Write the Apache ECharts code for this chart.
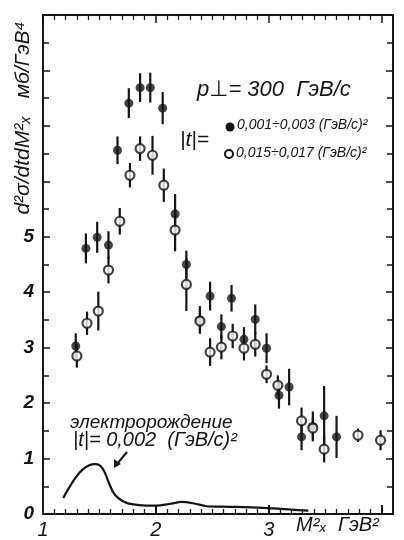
<!DOCTYPE html>
<html>
<head>
<meta charset="utf-8">
<script src="https://cdn.jsdelivr.net/npm/echarts@6/dist/echarts.min.js"></script>
<style>
html,body{margin:0;padding:0;background:#fff;}
#chart{width:404px;height:540px;}
</style>
</head>
<body>
<div id="chart"></div>
<script>
// ---- data ----
const filledX = [1.29, 1.38, 1.48, 1.58, 1.66, 1.76, 1.86, 1.95, 2.06, 2.17, 2.27, 2.39, 2.48, 2.58, 2.67, 2.78, 2.88, 2.98, 3.09, 3.18, 3.29, 3.39, 3.49, 3.60];
const filledY = [3.03, 4.79, 4.99, 4.85, 6.56, 7.41, 7.69, 7.69, 7.32, 5.41, 4.50, 3.50, 3.93, 3.38, 3.89, 3.15, 3.51, 2.99, 2.14, 2.29, 1.39, 1.58, 1.77, 1.39];
const filledErr = [0.23, 0.27, 0.28, 0.25, 0.25, 0.27, 0.26, 0.27, 0.29, 0.36, 0.25, 0.25, 0.26, 0.22, 0.24, 0.22, 0.27, 0.27, 0.24, 0.33, 0.24, 0.27, 0.54, 0.38];

const openX = [1.30, 1.39, 1.49, 1.58, 1.68, 1.77, 1.86, 1.97, 2.07, 2.17, 2.27, 2.39, 2.48, 2.58, 2.68, 2.78, 2.88, 2.98, 3.08, 3.29, 3.39, 3.49, 3.79, 3.99];
const openY = [2.85, 3.44, 3.66, 4.40, 5.28, 6.11, 6.59, 6.47, 5.93, 5.12, 4.14, 3.48, 2.92, 3.01, 3.21, 2.99, 3.06, 2.52, 2.32, 1.68, 1.55, 1.17, 1.42, 1.33];
const openErr = [0.21, 0.21, 0.35, 0.24, 0.24, 0.22, 0.22, 0.35, 0.30, 0.38, 0.48, 0.22, 0.25, 0.22, 0.22, 0.22, 0.22, 0.16, 0.18, 0.24, 0.20, 0.24, 0.12, 0.18];

// electroproduction curve |t| = 0.002
const curveX = [1.18, 1.23, 1.29, 1.35, 1.41, 1.46, 1.50, 1.54, 1.58, 1.62, 1.67, 1.74, 1.85, 2.00, 2.12, 2.23, 2.34, 2.45, 2.65, 2.95, 3.20, 3.35];
const curveY = [0.29, 0.47, 0.66, 0.80, 0.88, 0.90, 0.88, 0.78, 0.58, 0.40, 0.28, 0.20, 0.16, 0.15, 0.18, 0.22, 0.19, 0.14, 0.13, 0.11, 0.08, 0.06];

// tick labels
const xTickLabels = {1: '1', 2: '2', 3: '3'};
const yTickLabels = {0: '0', 1: '1', 2: '2', 3: '3', 4: '4', 5: '5'};

// ---- chart ----
const ink = '#151515';
const chart = echarts.init(document.getElementById('chart'));
const zip = (xs, ys, es) => xs.map((x, i) => es ? [x, ys[i], es[i]] : [x, ys[i]]);

function errRender(params, api) {
  const x = api.value(0), y = api.value(1), e = api.value(2);
  const a = api.coord([x, y + e]);
  const b = api.coord([x, y - e]);
  return {type: 'line', shape: {x1: a[0], y1: a[1], x2: b[0], y2: b[1]},
          style: {stroke: ink, lineWidth: 2.2}};
}

const fontFam = '"Liberation Sans", "DejaVu Sans", sans-serif';
const yAxisBase = {
  type: 'value', min: 0, max: 9, interval: 1,
  axisLine: {show: true, onZero: false, lineStyle: {color: ink, width: 2}},
  splitLine: {show: false},
  axisTick: {show: true, inside: true, length: 7, lineStyle: {color: ink, width: 1.5}},
  minorTick: {show: true, splitNumber: 2, length: 6, lineStyle: {color: ink, width: 1.5}}
};

const option = {
  backgroundColor: '#ffffff',
  animation: false,
  grid: {left: 43, right: 11, top: 15, bottom: 24, containLabel: false},
  xAxis: [{
    type: 'value', min: 1, max: 4.1, interval: 1, position: 'bottom',
    axisLine: {show: true, onZero: false, lineStyle: {color: ink, width: 2}},
    splitLine: {show: false},
    axisTick: {show: true, inside: true, length: 9, lineStyle: {color: ink, width: 2}},
    minorTick: {show: true, splitNumber: 10, length: 5, lineStyle: {color: ink, width: 1.3}},
    axisLabel: {
      show: true, margin: 6, color: ink, fontSize: 20, fontStyle: 'italic', fontFamily: fontFam,
      showMaxLabel: false,
      formatter: v => (Math.abs(v - Math.round(v)) < 1e-6 && xTickLabels[Math.round(v)]) ? xTickLabels[Math.round(v)] : ''
    }
  }, {
    type: 'value', min: 1, max: 4.1, interval: 1, position: 'top',
    axisLine: {show: true, onZero: false, lineStyle: {color: ink, width: 2}},
    splitLine: {show: false},
    axisTick: {show: true, inside: true, length: 8, lineStyle: {color: ink, width: 1.5}},
    minorTick: {show: true, splitNumber: 10, length: 5, lineStyle: {color: ink, width: 1.3}},
    axisLabel: {show: false}
  }],
  yAxis: [Object.assign({}, yAxisBase, {
    position: 'left',
    axisLabel: {
      show: true, margin: 9, color: ink, fontSize: 19, fontStyle: 'italic', fontWeight: 'bold', fontFamily: fontFam,
      formatter: v => (yTickLabels[v] !== undefined ? yTickLabels[v] : '')
    }
  }), Object.assign({}, yAxisBase, {
    position: 'right',
    axisLabel: {show: false}
  })],
  series: [
    {
      type: 'line', data: zip(curveX, curveY), smooth: 0.3, showSymbol: false, symbol: 'none',
      lineStyle: {color: ink, width: 2.2}, z: 2, silent: true
    },
    {type: 'custom', renderItem: errRender, data: zip(filledX, filledY, filledErr), z: 3, silent: true},
    {type: 'custom', renderItem: errRender, data: zip(openX, openY, openErr), z: 3, silent: true},
    {
      type: 'scatter', data: zip(filledX, filledY), symbol: 'circle', symbolSize: 9,
      itemStyle: {color: ink, borderColor: ink, borderWidth: 0}, z: 5, silent: true
    },
    {
      type: 'scatter', data: zip(openX, openY), symbol: 'circle', symbolSize: 9,
      itemStyle: {color: '#ffffff', borderColor: ink, borderWidth: 2.2}, z: 6, silent: true
    }
  ],
  graphic: [
    // y-axis title (rotated)
    {type: 'text', x: 23, y: 118, rotation: Math.PI / 2,
     style: {text: 'd²σ/dtdM²ₓ   мб/ГэВ⁴', fill: ink, font: 'italic 21px ' + fontFam,
             textAlign: 'center', textVerticalAlign: 'middle'}},
    // x-axis name
    {type: 'text', x: 296, y: 525,
     style: {text: 'M²ₓ  ГэВ²', fill: ink, font: 'italic 20px ' + fontFam,
             textAlign: 'left', textVerticalAlign: 'middle'}},
    // header text
    {type: 'text', x: 197, y: 90,
     style: {text: 'p⊥= 300  ГэВ/с', fill: ink, font: 'italic 22px ' + fontFam,
             textAlign: 'left', textVerticalAlign: 'middle'}},
    {type: 'text', x: 180, y: 140,
     style: {text: '|t|=', fill: ink, font: 'italic 21px ' + fontFam,
             textAlign: 'left', textVerticalAlign: 'middle'}},
    {type: 'circle', shape: {cx: 230, cy: 127, r: 4.5}, style: {fill: ink}},
    {type: 'circle', shape: {cx: 229, cy: 154, r: 4}, style: {fill: '#fff', stroke: ink, lineWidth: 2}},
    {type: 'text', x: 237, y: 125,
     style: {text: '0,001÷0,003 (ГэВ/с)²', fill: ink, font: 'italic 14px ' + fontFam,
             textAlign: 'left', textVerticalAlign: 'middle'}},
    {type: 'text', x: 236, y: 153,
     style: {text: '0,015÷0,017 (ГэВ/с)²', fill: ink, font: 'italic 14px ' + fontFam,
             textAlign: 'left', textVerticalAlign: 'middle'}},
    // electroproduction annotation
    {type: 'text', x: 70, y: 423,
     style: {text: 'электророждение', fill: ink, font: 'italic 19px ' + fontFam,
             textAlign: 'left', textVerticalAlign: 'middle'}},
    {type: 'text', x: 73, y: 440,
     style: {text: '|t|= 0,002  (ГэВ/с)²', fill: ink, font: 'italic 20px ' + fontFam,
             textAlign: 'left', textVerticalAlign: 'middle'}},
    {type: 'line', shape: {x1: 127, y1: 452, x2: 117, y2: 464}, style: {stroke: ink, lineWidth: 2}},
    {type: 'polygon', shape: {points: [[114, 468], [114, 459], [121, 464]]}, style: {fill: ink}}
  ]
};
chart.setOption(option);
</script>
</body>
</html>
